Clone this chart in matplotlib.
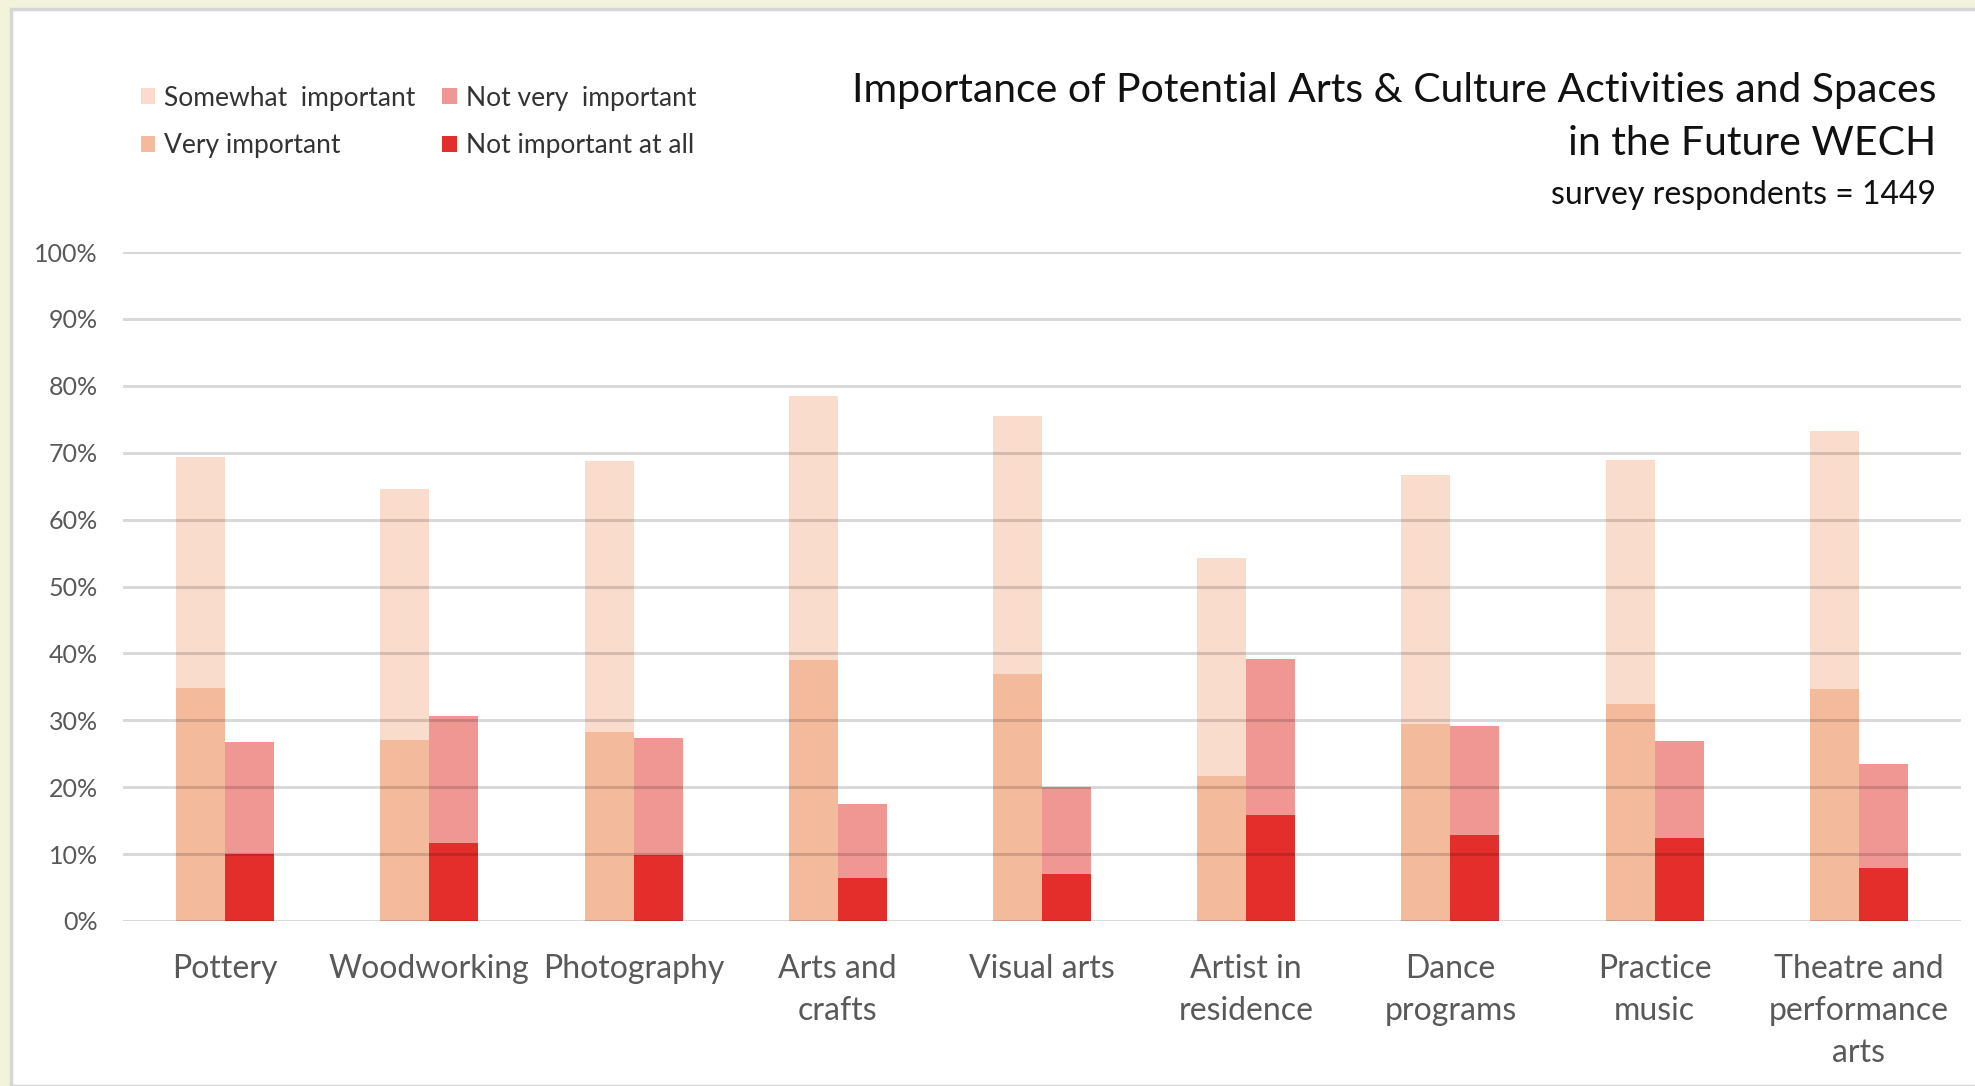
import matplotlib.pyplot as plt
import matplotlib.patches as mpatches
import numpy as np

plt.rcParams['font.family'] = ['Lato', 'DejaVu Sans']

categories = ['Pottery', 'Woodworking', 'Photography', 'Arts and\ncrafts', 'Visual arts',
              'Artist in\nresidence', 'Dance\nprograms', 'Practice\nmusic',
              'Theatre and\nperformance\narts']

# shares of respondents (%)
very_important = [34.8, 27.1, 28.2, 39.0, 36.9, 21.7, 29.4, 32.4, 34.7]
somewhat_important = [34.5, 37.5, 40.5, 39.5, 38.6, 32.5, 37.3, 36.5, 38.6]
not_at_all = [10.0, 11.7, 9.8, 6.4, 7.0, 15.8, 12.8, 12.4, 7.9]
not_very = [16.7, 19.0, 17.5, 11.1, 13.0, 23.4, 16.4, 14.5, 15.5]

c_somewhat = '#FADCCD'
c_very = '#F4BA9C'
c_notvery = '#F09794'
c_notatall = '#E32E2C'

fig = plt.figure(figsize=(19.75, 10.86), dpi=100, facecolor='#F3F3DB')
W, H = 1975, 1086
# white chart panel with thin grey edge
fig.add_artist(mpatches.Rectangle((11 / W, 0), 1, 1 - 9 / H, transform=fig.transFigure,
                                  facecolor='white', edgecolor='#D6D6D6', linewidth=2.5,
                                  zorder=0))

ax = fig.add_axes([123 / W, 1 - 921 / H, (1961 - 123) / W, (921 - 252) / H])
ax.set_facecolor('none')

x = np.arange(len(categories))
bw = 0.24
very = np.array(very_important) / 100
some = np.array(somewhat_important) / 100
nall = np.array(not_at_all) / 100
nvery = np.array(not_very) / 100

b_very = ax.bar(x - bw / 2, very, bw, color=c_very, linewidth=0, zorder=2)
b_some = ax.bar(x - bw / 2, some, bw, bottom=very, color=c_somewhat, linewidth=0, zorder=2)
b_nall = ax.bar(x + bw / 2, nall, bw, color=c_notatall, linewidth=0, zorder=2)
b_nvery = ax.bar(x + bw / 2, nvery, bw, bottom=nall, color=c_notvery, linewidth=0, zorder=2)

ax.set_ylim(0, 1)
ax.set_xlim(-0.5, len(categories) - 0.5)
ax.set_yticks(np.arange(0, 1.01, 0.1))
ax.set_yticklabels([f'{int(round(v * 100))}%' for v in np.arange(0, 1.01, 0.1)])
ax.set_xticks(x)
ax.set_xticklabels(categories, linespacing=1.5)
ax.tick_params(axis='y', length=0, labelsize=18, labelcolor='#595959', pad=18)
ax.tick_params(axis='x', length=0, labelsize=23, labelcolor='#595959', pad=24)
ax.yaxis.grid(True, color='black', alpha=0.15, linewidth=2.2, zorder=3)
ax.set_axisbelow(False)
for s in ax.spines.values():
    s.set_visible(False)

handles = [b_some, b_very, b_nvery, b_nall]
labels = ['Somewhat  important', 'Very important', 'Not very  important', 'Not important at all']
fig.legend(handles, labels, ncol=2, loc='upper left', bbox_to_anchor=(117 / W, 1 - 62 / H),
           frameon=False, fontsize=19, handlelength=0.55, handleheight=0.55, handletextpad=0.35,
           columnspacing=1.0, labelspacing=0.85, labelcolor='#333333')

fig.text(1936 / W, 1 - 117 / H,
         'Importance of Potential Arts & Culture Activities and Spaces\nin the Future WECH',
         ha='right', va='center', multialignment='right', fontsize=29.5, color='#111111',
         linespacing=1.55)
fig.text(1936 / W, 1 - 195 / H, 'survey respondents = 1449', ha='right', va='center',
         fontsize=23, color='#111111')

fig.savefig('out.png', dpi=100, facecolor=fig.get_facecolor())
plt.close(fig)
